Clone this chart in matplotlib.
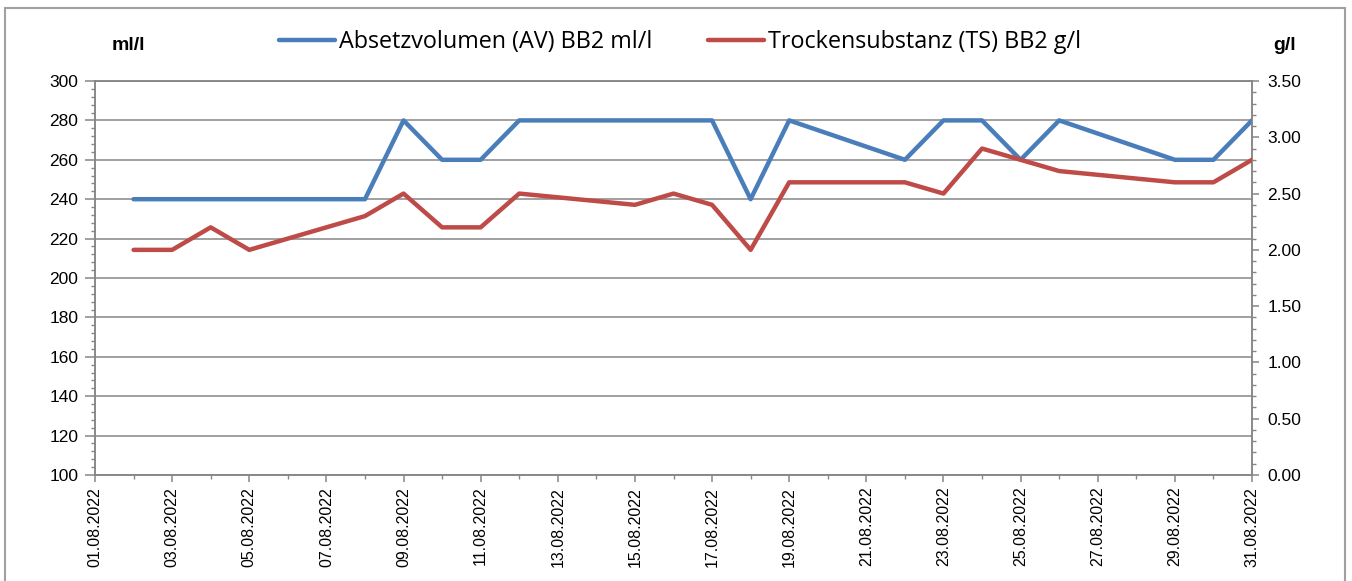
import numpy as np
import matplotlib
matplotlib.use("Agg")
import matplotlib.pyplot as plt
import matplotlib.dates as mdates
from matplotlib.ticker import MultipleLocator, FormatStrFormatter
from matplotlib.patches import Rectangle
import datetime as dt

# measurement days in August 2022 (working days)
days = [2, 3, 4, 5, 8, 9, 10, 11, 12, 15, 16, 17, 18, 19, 22, 23, 24, 25, 26, 29, 30, 31]
av_ml = [240, 240, 240, 240, 240, 280, 260, 260, 280, 280, 280, 280, 240, 280,
         260, 280, 280, 260, 280, 260, 260, 280]
ts_g = [2.0, 2.0, 2.2, 2.0, 2.3, 2.5, 2.2, 2.2, 2.5, 2.4, 2.5, 2.4, 2.0, 2.6,
        2.6, 2.5, 2.9, 2.8, 2.7, 2.6, 2.6, 2.8]
dates = [dt.datetime(2022, 8, d) for d in days]

label_av = "Absetzvolumen (AV) BB2 ml/l"
label_ts = "Trockensubstanz (TS) BB2 g/l"

blue = "#4a7ebb"
red = "#be4b48"
grid_c = "#868686"

plt.rcParams['font.family'] = ['Liberation Sans', 'DejaVu Sans']

fig = plt.figure(figsize=(13.52, 5.81), dpi=100)
ax = fig.add_axes([95 / 1352, 1 - 475 / 581, (1252 - 95) / 1352, (475 - 81) / 581])
ax2 = ax.twinx()

ax.plot(dates, av_ml, color=blue, lw=3.2, solid_capstyle='round', zorder=3)
ax2.plot(dates, ts_g, color=red, lw=3.2, solid_capstyle='round', zorder=3)

ax.set_xlim(dt.datetime(2022, 8, 1), dt.datetime(2022, 8, 31))
ax.set_ylim(100, 300)
ax2.set_ylim(0, 3.5)

ax.xaxis.set_major_locator(mdates.DayLocator(bymonthday=range(1, 32, 2)))
ax.xaxis.set_minor_locator(mdates.DayLocator())
ax.xaxis.set_major_formatter(mdates.DateFormatter('%d.%m.%Y'))
for lbl in ax.get_xticklabels():
    lbl.set_rotation(90)

ax.yaxis.set_major_locator(MultipleLocator(20))
ax.yaxis.set_minor_locator(MultipleLocator(4))
ax2.yaxis.set_major_locator(MultipleLocator(0.5))
ax2.yaxis.set_minor_locator(MultipleLocator(0.1))
ax2.yaxis.set_major_formatter(FormatStrFormatter('%.2f'))

ax.grid(axis='y', color=grid_c, lw=1.1)
ax.set_axisbelow(True)

for a in (ax, ax2):
    for s in a.spines.values():
        s.set_color(grid_c)
        s.set_linewidth(1.1)
    a.tick_params(which='both', colors=grid_c, labelcolor='black', labelsize=11.5)
    a.tick_params(which='major', length=5, width=1.1)
    a.tick_params(which='minor', length=3, width=1.0)
ax.tick_params(axis='y', labelsize=12.5)
ax2.tick_params(axis='y', labelsize=12.5)
ax.tick_params(axis='y', which='major', length=7)
ax.tick_params(axis='y', pad=5)
ax2.tick_params(axis='y', pad=6)

fig.text(128 / 1352, 1 - 46 / 581, "ml/l", fontsize=14, fontweight='bold',
         ha='center', va='center')
fig.text(1285 / 1352, 1 - 46 / 581, "g/l", fontsize=14, fontweight='bold',
         ha='center', va='center')

h1, = ax.plot([], [], color=blue, lw=3.2, solid_capstyle='round')
h2, = ax.plot([], [], color=red, lw=3.2, solid_capstyle='round')
fig.legend([h1, h2], [label_av, label_ts], loc='center', ncol=2,
           bbox_to_anchor=(680 / 1352, 1 - 42 / 581), frameon=False,
           prop={'family': 'Open Sans', 'size': 16.8}, handlelength=2.4,
           handletextpad=0.15, columnspacing=2.4)

fig.patches.append(Rectangle((5 / 1352, -0.01), 1340 / 1352, 1 - 8 / 581 + 0.01,
                             transform=fig.transFigure, fill=False,
                             edgecolor='#a0a0a0', lw=1.5))

fig.savefig("out.png", dpi=100)
